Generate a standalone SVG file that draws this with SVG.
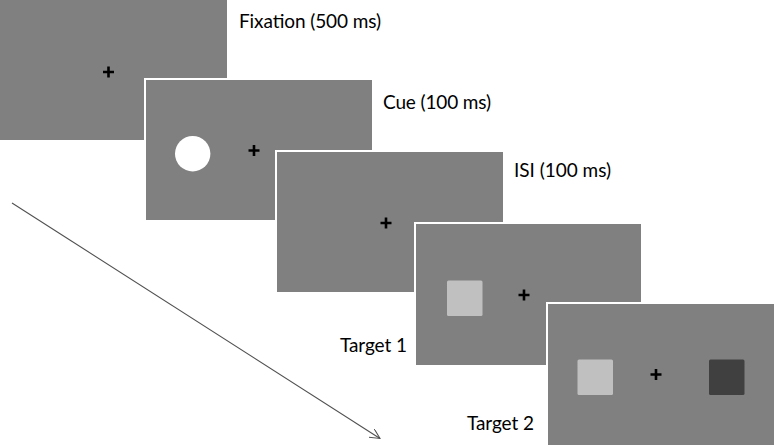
<svg xmlns="http://www.w3.org/2000/svg" width="774" height="445" viewBox="0 0 774 445">
<style>
.panel{fill:#808080;stroke:#ffffff;stroke-width:2}
.cross{stroke:#000;stroke-width:2.6;fill:none}
.lbl{font-family:Lato,"Open Sans","Liberation Sans",sans-serif;font-size:19px;fill:#000}
.light{fill:#c0c0c0}
.dark{fill:#404040}
</style>
<defs>
<marker id="arr" markerWidth="12" markerHeight="12" refX="10" refY="5" orient="auto" markerUnits="userSpaceOnUse">
<path d="M0,0 L10,5 L0,10" fill="none" stroke="#505050" stroke-width="1"/>
</marker>
</defs>
<rect width="774" height="445" fill="#fff"/>
<g id="connectors">
<line x1="12" y1="203" x2="380" y2="438.5" stroke="#505050" stroke-width="1.1" marker-end="url(#arr)"/>
</g>
<g id="fixation">
<rect class="panel" x="-2" y="-2" width="230" height="143"/>
<path class="cross" d="M103,72 H114 M108.5,66.5 V77.5"/>
<text class="lbl" x="239" y="27.5" textLength="142">Fixation (500 ms)</text>
</g>
<g id="cue">
<rect class="panel" x="145" y="79" width="228" height="142"/>
<circle cx="192.7" cy="153.7" r="17.7" fill="#fff"/>
<path class="cross" d="M248.5,150.5 H259.5 M254,145 V156"/>
<text class="lbl" x="383" y="108.5" textLength="108">Cue (100 ms)</text>
</g>
<g id="isi">
<rect class="panel" x="276" y="151" width="228" height="142"/>
<path class="cross" d="M380.5,223 H391.5 M386,217.5 V228.5"/>
<text class="lbl" x="514" y="176.5" textLength="97">ISI (100 ms)</text>
</g>
<g id="target1">
<rect class="panel" x="415" y="223" width="227" height="143"/>
<rect class="light" x="447" y="280.5" width="35.5" height="35.5" rx="1.5"/>
<path class="cross" d="M518.5,295 H529.5 M524,289.5 V300.5"/>
<text class="lbl" x="340" y="352" textLength="67">Target 1</text>
</g>
<g id="target2">
<rect class="panel" x="547" y="303" width="229" height="144"/>
<rect class="light" x="577.5" y="359.5" width="35.5" height="35.5" rx="1.5"/>
<rect class="dark" x="709" y="359.5" width="35.5" height="35.5" rx="1.5"/>
<path class="cross" d="M650.5,374.5 H661.5 M656,369 V380"/>
<text class="lbl" x="467" y="429.5" textLength="67">Target 2</text>
</g>
</svg>
